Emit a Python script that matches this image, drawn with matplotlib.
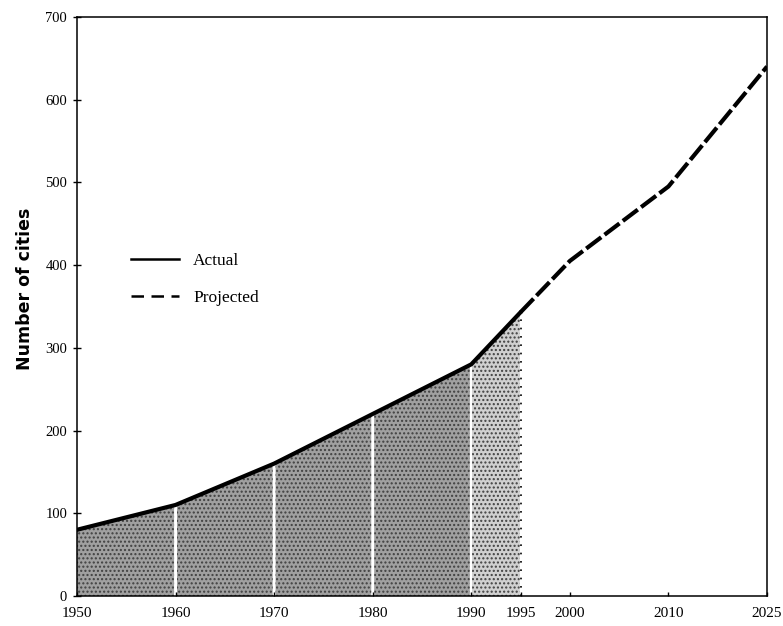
# number of cities, actual and projected, 1950-2025
import numpy as np
import matplotlib
matplotlib.use('Agg')
import matplotlib.pyplot as plt

years = [1950, 1960, 1970, 1980, 1990, 1995, 2000, 2010, 2025]
cities = [80, 110, 160, 220, 280, 343, 405, 495, 640]
actual_end = 1995

# the printed axis is not linear in time: each labelled year gets its own slot
tick_years = years
tick_slots = [0, 1, 2, 3, 4, 4.5, 5, 6, 7]

fwd = lambda x: np.interp(x, tick_years, tick_slots)
inv = lambda x: np.interp(x, tick_slots, tick_years)

plt.rcParams['font.family'] = ['Liberation Serif', 'DejaVu Serif']

fig = plt.figure(figsize=(7.83, 6.26), dpi=100)
ax = fig.add_axes([0.0983, 0.048, 0.8813, 0.925])
ax.set_xscale('function', functions=(fwd, inv))

yrs = np.array(years)
val = np.array(cities)
ia = years.index(actual_end)

# stippled area under the actual line, one block per interval
for k in range(ia):
    x0, x1 = yrs[k], yrs[k + 1]
    pad = 0.15 if x1 - x0 >= 10 else 0.08
    xs = np.array([x0 + pad if k > 0 else x0, x1 - pad])
    ys = np.interp(fwd(xs), fwd(yrs), val)
    shade = '#a0a0a0' if k < ia - 1 else '#d0d0d0'
    ax.fill_between(xs, 0, ys, facecolor=shade, edgecolor='#404040',
                    hatch='....', linewidth=0)

ax.vlines(actual_end, 0, val[ia], colors='k', linestyles=(0, (1, 4)), lw=1.2)

l1, = ax.plot(yrs[:ia + 1], val[:ia + 1], color='k', lw=3,
              solid_capstyle='round')
l2, = ax.plot(yrs[ia:], val[ia:], color='k', lw=3, dashes=(4.5, 1))

ax.set_xlim(1950, 2025)
ax.set_ylim(0, 700)
ax.set_xticks(tick_years)
ax.set_xticklabels([str(y) for y in tick_years])
ax.set_yticks(range(0, 701, 100))
ax.tick_params(axis='y', direction='inout', length=6, width=1, labelsize=10.5, pad=4)
ax.tick_params(axis='x', direction='in', length=3, width=1, labelsize=11, pad=8)
for s in ax.spines.values():
    s.set_linewidth(1.1)

ax.set_ylabel('Number of cities', family='DejaVu Sans', fontweight='bold',
              fontsize=12.5)
ax.yaxis.set_label_coords(-0.062, 0.53)

leg_dash, = ax.plot([], [], color='k', lw=1.8, dashes=(5, 3))
leg_solid, = ax.plot([], [], color='k', lw=1.8)
ax.legend([leg_solid, leg_dash], ['Actual', 'Projected'], loc='upper left',
          bbox_to_anchor=(0.055, 0.62), frameon=False, fontsize=12.5,
          handlelength=2.8, handletextpad=0.8, labelspacing=1.2)

fig.savefig('out.png', dpi=100)
